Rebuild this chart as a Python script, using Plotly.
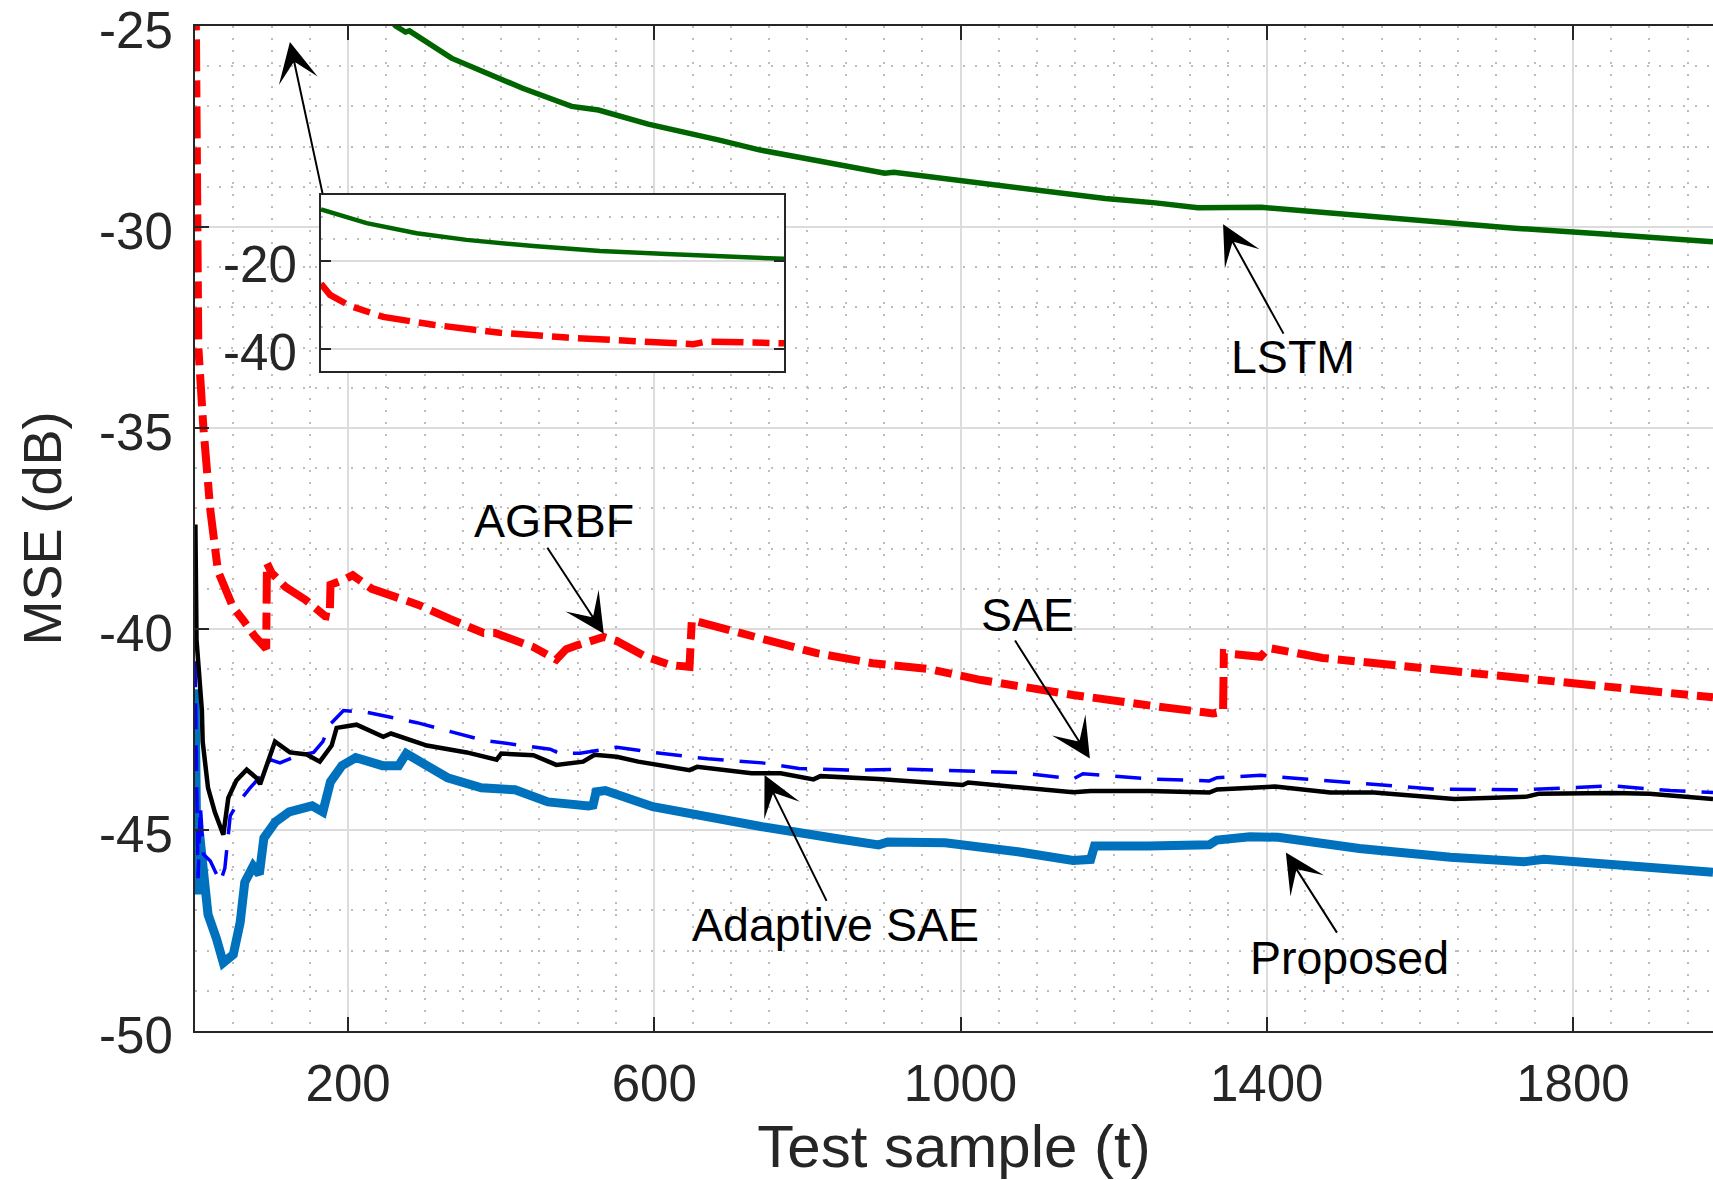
import plotly.graph_objects as go

# ---------------- data ----------------
prop_t = [0, 3, 6, 10, 17, 28, 37, 50, 59, 65, 76, 84, 90, 105, 123, 153, 167, 177, 192, 210,
          245, 266, 276, 330, 374, 418, 461, 514, 520, 524, 536, 598, 670, 741, 837, 893, 905,
          980, 1075, 1147, 1170, 1175, 1246, 1282, 1325, 1335, 1378, 1415, 1521, 1640, 1736,
          1762, 1903, 1983]
prop_v = [-41.5, -46.6, -45.1, -46.0, -47.1, -47.7, -48.3, -48.1, -47.3, -46.3, -45.9, -46.1,
          -45.2, -44.8, -44.55, -44.4, -44.55, -43.8, -43.4, -43.2, -43.4, -43.4, -43.1, -43.7,
          -43.95, -44.0, -44.3, -44.4, -44.38, -44.05, -44.02, -44.42, -44.7, -44.92, -45.21,
          -45.37, -45.3, -45.32, -45.54, -45.76, -45.73, -45.4, -45.4, -45.37, -45.37, -45.25,
          -45.17, -45.18, -45.46, -45.68, -45.79, -45.73, -45.91, -46.05]

asae_t = [0, 0.5, 2, 6, 9, 10, 17, 26, 37, 43.5, 54, 67.5, 80, 85, 92, 104.5, 124, 146, 163,
          178.5, 185, 211, 246, 256, 303, 355, 394, 400, 442, 472, 507, 522, 551, 579, 646, 656,
          727, 765, 808, 817, 893, 1003, 1010, 1147, 1170, 1246, 1325, 1335, 1411, 1483, 1540,
          1645, 1740, 1755, 1853, 1900, 1983]
asae_v = [-38.4, -37.4, -40.27, -41.5, -42.03, -42.8, -43.95, -44.56, -45.12, -44.2, -43.77,
          -43.5, -43.7, -43.86, -43.5, -42.8, -43.07, -43.12, -43.3, -42.9, -42.46, -42.38,
          -42.68, -42.6, -42.9, -43.07, -43.25, -43.1, -43.14, -43.38, -43.3, -43.13, -43.18,
          -43.3, -43.51, -43.43, -43.59, -43.59, -43.74, -43.66, -43.73, -43.88, -43.82, -44.06,
          -44.03, -44.03, -44.07, -43.99, -43.92, -44.07, -44.07, -44.23, -44.17, -44.1, -44.08,
          -44.1, -44.23]

sae_t = [0, 2, 4, 7, 11, 20, 33, 39, 46, 54, 72, 85, 98, 111, 133, 155, 167, 176, 194, 224,
         290, 377, 464, 477, 503, 551, 598, 670, 741, 789, 860, 932, 1003, 1075, 1147, 1160,
         1246, 1325, 1335, 1392, 1449, 1521, 1616, 1736, 1775, 1850, 1927, 1983]
sae_v = [-40.8, -42.9, -46.2, -44.4, -45.6, -45.77, -46.3, -45.95, -44.65, -44.38, -43.95,
         -43.68, -43.25, -43.33, -43.16, -43.07, -42.8, -42.38, -42.03, -42.07, -42.33, -42.77,
         -42.99, -43.1, -43.09, -42.94, -43.07, -43.23, -43.33, -43.47, -43.51, -43.49, -43.52,
         -43.57, -43.73, -43.6, -43.73, -43.78, -43.7, -43.64, -43.73, -43.84, -43.98, -44.0,
         -43.96, -43.9, -44.02, -44.07]

agrbf_t = [0, 0.5, 2, 4.3, 11, 20, 30, 43.5, 50, 63, 78, 93, 94, 100, 118, 144, 170, 176, 177,
           196, 206, 231, 257, 292, 333, 377, 392, 442, 472, 485, 500, 525, 534, 551, 589, 622,
           646, 649, 665, 703, 755, 812, 885, 960, 1027, 1099, 1147, 1246, 1282, 1330, 1343,
           1344, 1392, 1402, 1473, 1521, 1616, 1712, 1807, 1903, 1983]
agrbf_v = [-22.0, -25.0, -28.9, -32.97, -35.0, -37.04, -38.56, -39.17, -39.47, -39.78, -40.18,
           -40.49, -38.36, -38.6, -38.95, -39.27, -39.68, -39.7, -38.9, -38.76, -38.66, -39.0,
           -39.17, -39.4, -39.75, -40.1, -40.1, -40.45, -40.76, -40.5, -40.4, -40.27, -40.2,
           -40.3, -40.69, -40.9, -40.94, -39.78, -39.86, -40.1, -40.35, -40.6, -40.85, -41.0,
           -41.27, -41.5, -41.64, -41.9, -42.0, -42.1, -42.05, -40.6, -40.69, -40.47, -40.72,
           -40.81, -40.97, -41.19, -41.35, -41.52, -41.7]

lstm_t = [200, 240, 262, 275, 280, 335, 381, 428, 492, 527, 592, 638, 685, 737, 825, 901, 913,
          976, 1058, 1117, 1151, 1189, 1255, 1310, 1393, 1476, 1614, 1724, 1835, 1983]
lstm_v = [-23.5, -24.5, -25.0, -25.15, -25.12, -25.8, -26.16, -26.55, -27.0, -27.09, -27.44,
          -27.63, -27.84, -28.08, -28.4, -28.66, -28.64, -28.79, -28.97, -29.1, -29.2, -29.29,
          -29.4, -29.52, -29.51, -29.64, -29.87, -30.03, -30.17, -30.37]

# inset curves
in_lstm_t = [0, 197, 413, 629, 917, 1205, 1493, 1781, 2000]
in_lstm_v = [-8.25, -11.4, -13.7, -15.2, -16.6, -17.7, -18.4, -19.1, -19.5]
in_agrbf_t = [0, 39, 125, 269, 485, 773, 1061, 1349, 1608, 1666, 2000]
in_agrbf_v = [-25.2, -27.7, -30.2, -32.7, -34.5, -36.3, -37.4, -38.2, -38.9, -38.3, -38.7]

x_ticks = [200, 600, 1000, 1400, 1800]
x_tick_text = ["200", "600", "1000", "1400", "1800"]
y_ticks = [-50, -45, -40, -35, -30, -25]
y_tick_text = ["-50", "-45", "-40", "-35", "-30", "-25"]
inset_y_ticks = [-40, -20]
inset_y_text = ["-40", "-20"]

# annotations: (label, text x, text y, tail x, tail y, head x, head y)
labels = [
    ("LSTM", 1434, -33.23, 1423, -32.69, 1343, -29.93),
    ("AGRBF", 469, -37.31, 459, -37.94, 534, -40.12),
    ("SAE", 1087, -39.65, 1070, -40.25, 1169, -43.22),
    ("Adaptive SAE", 837, -47.36, 826, -46.8, 744, -43.63),
    ("Proposed", 1508, -48.18, 1493, -47.59, 1425, -45.56),
]
inset_arrow = (167, -29.2, 124, -25.4)

# ---------------- figure ----------------
FONT = "Liberation Sans, Arial, Helvetica, sans-serif"
AX = "#262626"
GRID = "#dcdcdc"
MINOR = "#bdbdbd"

fig = go.Figure()
fig.add_trace(go.Scatter(x=prop_t, y=prop_v, mode="lines", name="Proposed",
                         line=dict(color="#0072BD", width=9)))
fig.add_trace(go.Scatter(x=sae_t, y=sae_v, mode="lines", name="SAE",
                         line=dict(color="#0000FF", width=3.5, dash="26px,16px")))
fig.add_trace(go.Scatter(x=asae_t, y=asae_v, mode="lines", name="Adaptive SAE",
                         line=dict(color="#000000", width=4.5)))
fig.add_trace(go.Scatter(x=agrbf_t, y=agrbf_v, mode="lines", name="AGRBF",
                         line=dict(color="#FF0000", width=8, dash="32px,9px,17px,9px")))
fig.add_trace(go.Scatter(x=lstm_t, y=lstm_v, mode="lines", name="LSTM",
                         line=dict(color="#006400", width=5.5)))

# inset
fig.add_trace(go.Scatter(x=in_lstm_t, y=in_lstm_v, mode="lines", xaxis="x2", yaxis="y2",
                         line=dict(color="#006400", width=4.5), showlegend=False))
fig.add_trace(go.Scatter(x=in_agrbf_t, y=in_agrbf_v, mode="lines", xaxis="x2", yaxis="y2",
                         line=dict(color="#FF0000", width=6.5, dash="32px,9px,17px,9px"),
                         showlegend=False))

W, H = 1713, 1180
L, R, T, B = 195, 0, 26, 149
pw, ph = W - L - R, H - T - B

def px_x(X):
    return (X - L) / pw

def px_y(Y):
    return (H - B - Y) / ph

annotations = []
for name, tx, ty, ax_, ay_, hx, hy in labels:
    annotations.append(dict(x=tx, y=ty, xref="x", yref="y", text=name, showarrow=False,
                            font=dict(family=FONT, size=46.5, color="#000000"),
                            xanchor="center", yanchor="middle"))
    annotations.append(dict(x=hx, y=hy, xref="x", yref="y", ax=ax_, ay=ay_, axref="x",
                            ayref="y", text="", showarrow=True, arrowhead=3, arrowsize=3.3,
                            arrowwidth=2, arrowcolor="#000000"))
annotations.append(dict(x=inset_arrow[2], y=inset_arrow[3], xref="x", yref="y",
                        ax=inset_arrow[0], ay=inset_arrow[1], axref="x", ayref="y", text="",
                        showarrow=True, arrowhead=3, arrowsize=3.3, arrowwidth=2,
                        arrowcolor="#000000"))

TICKFONT = dict(family=FONT, size=51, color=AX)

fig.update_layout(
    width=W, height=H,
    margin=dict(l=L, r=R, t=T, b=B, pad=0, autoexpand=False),
    paper_bgcolor="white", plot_bgcolor="white",
    showlegend=False,
    font=dict(family=FONT, color=AX),
    annotations=annotations,
    xaxis=dict(
        range=[0, 1983], tickmode="array", tickvals=x_ticks, ticktext=x_tick_text,
        ticks="inside", ticklen=14, tickwidth=2, automargin=False,
        tickcolor=AX, showline=True, linecolor=AX, linewidth=2, mirror="ticks",
        showgrid=True, gridcolor=GRID, gridwidth=2, zeroline=False,
        tickfont=TICKFONT, ticklabelstandoff=7, ticklabeloverflow="allow",
        minor=dict(dtick=50, tick0=0, showgrid=True, gridcolor=MINOR, gridwidth=1.6,
                   griddash="2px,10px", ticks=""),
        title=dict(text="Test sample (t)", font=dict(family=FONT, size=60, color=AX),
                   standoff=24),
    ),
    yaxis=dict(
        range=[-50, -25], tickmode="array", tickvals=y_ticks, ticktext=y_tick_text,
        ticks="inside", ticklen=14, tickwidth=2, automargin=False,
        tickcolor=AX, showline=True, linecolor=AX, linewidth=2, mirror=False,
        showgrid=True, gridcolor=GRID, gridwidth=2, zeroline=False,
        tickfont=TICKFONT, ticklabelstandoff=10, ticklabelshift=4,
        ticklabeloverflow="allow",
        minor=dict(dtick=1, tick0=0, showgrid=True, gridcolor=MINOR, gridwidth=1.6,
                   griddash="2px,10px", ticks=""),
        title=dict(text="MSE (dB)", font=dict(family=FONT, size=54, color=AX), standoff=20),
    ),
    xaxis2=dict(
        domain=[px_x(321), px_x(784)], anchor="y2", range=[0, 2000], automargin=False,
        showticklabels=False, ticks="", showgrid=False, zeroline=False,
        showline=True, linecolor=AX, linewidth=2, mirror=True,
    ),
    yaxis2=dict(
        domain=[px_y(371), px_y(195)], anchor="x2", range=[-45, -5], automargin=False,
        tickmode="array", tickvals=inset_y_ticks, ticktext=inset_y_text,
        ticks="inside", ticklen=10, tickwidth=2, tickcolor=AX,
        showline=True, linecolor=AX, linewidth=2, mirror="ticks",
        showgrid=True, gridcolor=GRID, gridwidth=2, zeroline=False,
        tickfont=TICKFONT, ticklabelstandoff=12, ticklabelshift=3,
        ticklabeloverflow="allow",
        minor=dict(dtick=5, tick0=0, showgrid=True, gridcolor=MINOR, gridwidth=1.6,
                   griddash="2px,10px", ticks=""),
    ),
)

fig.write_html("out.html")
